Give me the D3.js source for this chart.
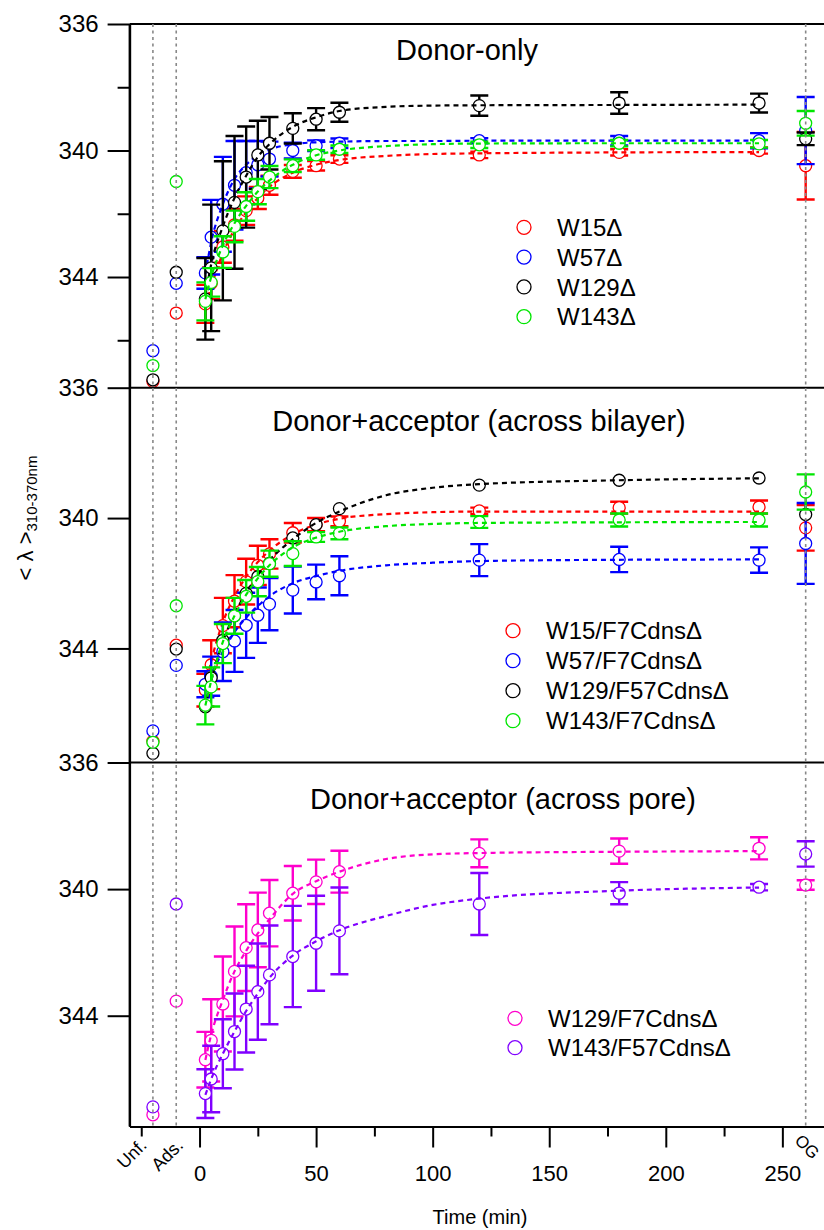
<!DOCTYPE html>
<html>
<head>
<meta charset="utf-8">
<script src="https://cdn.jsdelivr.net/npm/d3@7"></script>
<style>
  body { margin: 0; background: #fff; }
  svg { display: block; font-family: "Liberation Sans", Arial, Helvetica, sans-serif; }
</style>
</head>
<body>
<svg id="chart" width="824" height="1230"></svg>
<script>
/**
 * Data.
 */
const times = [2.5, 5, 10, 15, 20, 25, 30, 40, 50, 60, 120, 180, 240];
const fitTimes = [2.5, 5, 10, 15, 20, 25, 30, 40, 50, 60, 80, 100, 120, 180, 240];
const prepTimes = [-20, -10];          // Unf., Ads.
const prepLabels = ['Unf.', 'Ads.'];
const ogTime = 260;
const ogLabel = 'OG';
const xMajorTicks = [0, 50, 100, 150, 200, 250];
const xMinorTicks = [-25, 25, 75, 125, 175, 225];
const yTicks = [336, 340, 344];
const yMinorTicks = [338, 342, 346];
const yDomain = [336, 347.5];

// Donor-only
const w15Mean = [344.85, 344.2, 343.05, 342.35, 341.9, 341.5, 341.1, 340.66, 340.48, 340.27, 340.14, 340.06, 340.0];
const w15Err = [0.6, 0.5, 0.5, 0.5, 0.45, 0.35, 0.3, 0.2, 0.15, 0.12, 0.1, 0.1, 0.1];
const w15Fit = [344.9, 344.3, 343.25, 342.5, 341.95, 341.5, 341.15, 340.7, 340.45, 340.3, 340.17, 340.11, 340.09, 340.06, 340.05];
const w15Prep = [347.3, 345.14];
const w15Og = [340.48, 1.07];

const w57Mean = [343.87, 342.74, 341.7, 341.1, 340.7, 340.45, 340.27, 340.0, 339.85, 339.77, 339.69, 339.69, 339.69];
const w57Err = [0.5, 1.18, 1.5, 1.4, 1.0, 0.75, 0.55, 0.25, 0.17, 0.15, 0.08, 0.15, 0.24];
const w57Fit = [343.9, 342.9, 341.7, 340.9, 340.45, 340.15, 339.97, 339.8, 339.74, 339.72, 339.7, 339.7, 339.69, 339.69, 339.69];
const w57Prep = [346.33, 344.2];
const w57Og = [339.37, 1.06];

const w129Mean = [344.69, 343.71, 342.54, 341.64, 340.84, 340.14, 339.77, 339.3, 339.01, 338.79, 338.58, 338.5, 338.5];
const w129Err = [1.29, 2.0, 2.2, 2.1, 1.6, 1.08, 0.83, 0.48, 0.35, 0.3, 0.32, 0.34, 0.3];
const w129Fit = [344.6, 343.6, 342.4, 341.5, 340.8, 340.2, 339.8, 339.25, 338.95, 338.75, 338.62, 338.58, 338.57, 338.56, 338.55];
const w129Prep = [347.25, 343.85];
const w129Og = [339.63, 0.2];

const w143Mean = [344.77, 344.17, 343.21, 342.4, 341.77, 341.3, 340.84, 340.48, 340.14, 339.96, 339.82, 339.77, 339.79];
const w143Err = [0.6, 0.45, 0.5, 0.5, 0.45, 0.4, 0.35, 0.2, 0.15, 0.12, 0.1, 0.1, 0.12];
const w143Fit = [344.7, 344.0, 343.0, 342.3, 341.75, 341.3, 340.95, 340.45, 340.15, 340.0, 339.86, 339.8, 339.78, 339.77, 339.77];
const w143Prep = [346.8, 340.98];
const w143Og = [339.14, 0.39];

// Donor+acceptor (across bilayer)
const w15F7Mean = [345.28, 344.5, 343.3, 342.55, 341.95, 341.45, 341.1, 340.45, 340.2, 340.1, 339.78, 339.68, 339.66];
const w15F7Err = [0.5, 0.75, 0.85, 0.8, 0.7, 0.6, 0.45, 0.3, 0.2, 0.15, 0.1, 0.18, 0.2];
const w15F7Fit = [345.2, 344.4, 343.2, 342.4, 341.8, 341.35, 341.0, 340.5, 340.2, 340.02, 339.88, 339.82, 339.8, 339.8, 339.8];
const w15F7Prep = [346.85, 343.9];
const w15F7Og = [340.3, 0.7];

const w57F7Mean = [345.1, 344.85, 344.1, 343.77, 343.29, 342.98, 342.64, 342.21, 341.96, 341.77, 341.29, 341.27, 341.29];
const w57F7Err = [0.4, 0.6, 0.9, 0.95, 1.0, 0.85, 0.8, 0.72, 0.53, 0.6, 0.49, 0.39, 0.39];
const w57F7Fit = [345.2, 344.8, 344.1, 343.5, 343.05, 342.7, 342.4, 342.0, 341.78, 341.62, 341.45, 341.37, 341.32, 341.28, 341.27];
const w57F7Prep = [346.53, 344.52];
const w57F7Og = [340.78, 1.24];

const w129F57Mean = [345.79, 344.9, 343.75, 343.0, 342.31, 341.8, 341.39, 340.61, 340.2, 339.71, 338.99, 338.84, 338.77];
const w129F57Err = [0, 0, 0, 0, 0, 0, 0, 0, 0, 0, 0, 0, 0];
const w129F57Fit = [345.8, 345.0, 343.8, 342.95, 342.3, 341.75, 341.3, 340.65, 340.15, 339.8, 339.3, 339.07, 338.96, 338.84, 338.78];
const w129F57Prep = [347.22, 344.02];
const w129F57Og = [339.89, 0];

const w143F7Mean = [345.74, 345.18, 343.85, 343.0, 342.4, 341.95, 341.4, 341.09, 340.58, 340.47, 340.12, 340.06, 340.06];
const w143F7Err = [0.59, 0.6, 0.6, 0.55, 0.5, 0.45, 0.4, 0.38, 0.15, 0.18, 0.18, 0.2, 0.2];
const w143F7Fit = [345.75, 345.0, 343.8, 343.0, 342.35, 341.85, 341.45, 340.9, 340.6, 340.42, 340.25, 340.18, 340.15, 340.13, 340.12];
const w143F7Prep = [346.88, 342.69];
const w143F7Og = [339.2, 0.54];

// Donor+acceptor (across pore)
const w129F7Mean = [345.39, 344.78, 343.63, 342.6, 341.85, 341.29, 340.76, 340.13, 339.77, 339.45, 338.87, 338.8, 338.71];
const w129F7Err = [0.88, 1.3, 1.5, 1.42, 1.37, 1.18, 1.05, 0.86, 0.7, 0.66, 0.44, 0.4, 0.35];
const w129F7Fit = [345.4, 344.6, 343.5, 342.6, 341.95, 341.4, 340.95, 340.15, 339.75, 339.45, 339.05, 338.9, 338.86, 338.82, 338.8];
const w129F7Prep = [347.13, 343.54];
const w129F7Og = [339.87, 0.15];

const w143F57Mean = [346.46, 346.0, 345.2, 344.5, 343.79, 343.24, 342.71, 342.13, 341.71, 341.32, 340.47, 340.13, 339.94];
const w143F57Err = [0.77, 1.05, 1.09, 1.2, 1.37, 1.52, 1.56, 1.6, 1.5, 1.37, 0.98, 0.35, 0.1];
const w143F57Fit = [346.5, 346.0, 345.2, 344.5, 343.85, 343.3, 342.8, 342.1, 341.65, 341.3, 340.85, 340.5, 340.3, 340.05, 339.95];
const w143F57Prep = [346.88, 340.47];
const w143F57Og = [338.89, 0.4];

/**
 * Series and panels.
 */
const series = (name, color, mean, err, fit, prep, og) => ({ name, color, mean, err, fit, prep, og });

const panels = [
    {
        title: 'Donor-only', top: 24, bottom: 387.7, minor: true,
        titleX: 467, titleY: 60, legendX: 524, legendY: 227.3, legendGap: 29.8,
        series: [
            series('W15Δ', '#ff0000', w15Mean, w15Err, w15Fit, w15Prep, w15Og),
            series('W57Δ', '#0000ff', w57Mean, w57Err, w57Fit, w57Prep, w57Og),
            series('W129Δ', '#000000', w129Mean, w129Err, w129Fit, w129Prep, w129Og),
            series('W143Δ', '#00e600', w143Mean, w143Err, w143Fit, w143Prep, w143Og)
        ]
    },
    {
        title: 'Donor+acceptor (across bilayer)', top: 387.7, bottom: 762.5, minor: false,
        titleX: 479, titleY: 431, legendX: 513, legendY: 630.7, legendGap: 30,
        series: [
            series('W15/F7CdnsΔ', '#ff0000', w15F7Mean, w15F7Err, w15F7Fit, w15F7Prep, w15F7Og),
            series('W57/F7CdnsΔ', '#0000ff', w57F7Mean, w57F7Err, w57F7Fit, w57F7Prep, w57F7Og),
            series('W129/F57CdnsΔ', '#000000', w129F57Mean, w129F57Err, w129F57Fit, w129F57Prep, w129F57Og),
            series('W143/F7CdnsΔ', '#00e600', w143F7Mean, w143F7Err, w143F7Fit, w143F7Prep, w143F7Og)
        ]
    },
    {
        title: 'Donor+acceptor (across pore)', top: 762.5, bottom: 1126.5, minor: false,
        titleX: 503, titleY: 809, legendX: 515, legendY: 1018.3, legendGap: 29.4,
        series: [
            series('W129/F7CdnsΔ', '#ff00cc', w129F7Mean, w129F7Err, w129F7Fit, w129F7Prep, w129F7Og),
            series('W143/F57CdnsΔ', '#8000ff', w143F57Mean, w143F57Err, w143F57Fit, w143F57Prep, w143F57Og)
        ]
    }
];

/**
 * D3.
 */
const svg = d3.select('#chart');
const x = d3.scaleLinear().domain([-30, 280]).range([129.6, 852.3]);
const plotTop = panels[0].top,
    plotBottom = panels[panels.length - 1].bottom,
    plotLeft = x.range()[0];

function styleAxis(g, size) {
    g.attr('font-size', size).attr('font-family', null);
    g.selectAll('.domain, .tick line').attr('stroke', '#000').attr('stroke-width', 2);
    g.selectAll('.tick text').attr('fill', '#000');
}

function drawSeries(g, s, y) {
    const pts = times.map((t, i) => ({ t, v: s.mean[i], e: s.err[i] }))
        .concat([{ t: ogTime, v: s.og[0], e: s.og[1] }]);
    const preps = prepTimes.map((t, i) => ({ t, v: s.prep[i], e: 0 }));
    const container = g.append('g').attr('class', 'series');

    // Error bars
    container.selectAll('path.err').data(pts.filter(d => d.e > 0))
        .enter().append('path')
            .attr('class', 'err')
            .attr('fill', 'none')
            .attr('stroke', s.color)
            .attr('stroke-width', 2.4)
            .attr('d', d => {
                const cx = x(d.t), y1 = y(d.v - d.e), y2 = y(d.v + d.e);
                return `M${cx},${y1}V${y2}M${cx - 9},${y1}h18M${cx - 9},${y2}h18`;
            });

    // Points
    container.selectAll('circle').data(pts.concat(preps))
        .enter().append('circle')
            .attr('cx', d => x(d.t))
            .attr('cy', d => y(d.v))
            .attr('r', 6)
            .attr('fill', '#fff')
            .attr('stroke', s.color)
            .attr('stroke-width', 1.3);

    // Fit
    const line = d3.line().x(d => x(d[0])).y(d => y(d[1])).curve(d3.curveMonotoneX);
    container.append('path')
        .attr('fill', 'none')
        .attr('stroke', s.color)
        .attr('stroke-width', 2.2)
        .attr('stroke-dasharray', '5,4')
        .attr('d', line(fitTimes.map((t, i) => [t, s.fit[i]])));
}

function drawPanel(p) {
    const y = d3.scaleLinear().domain(yDomain).range([p.top, p.bottom]);
    const g = svg.append('g').attr('class', 'panel');

    // Frame line on top of the panel
    g.append('line')
        .attr('x1', plotLeft).attr('x2', x.range()[1])
        .attr('y1', p.top).attr('y2', p.top)
        .attr('stroke', '#000').attr('stroke-width', 2);

    // y-axis
    g.append('g').attr('transform', `translate(${plotLeft},0)`)
        .call(d3.axisLeft(y).tickValues(yTicks).tickSize(22).tickPadding(9).tickSizeOuter(0))
        .call(styleAxis, 24);
    if (p.minor) {
        g.append('g').attr('transform', `translate(${plotLeft},0)`)
            .call(d3.axisLeft(y).tickValues(yMinorTicks).tickSize(12).tickFormat('').tickSizeOuter(0))
            .call(styleAxis, 24);
    }

    // Items
    p.series.forEach(s => drawSeries(g, s, y));

    // Title
    g.append('text')
        .attr('x', p.titleX).attr('y', p.titleY)
        .attr('text-anchor', 'middle')
        .attr('font-size', 29)
        .text(p.title);

    // Legend
    const legend = g.selectAll('g.legend').data(p.series)
        .enter().append('g')
            .attr('class', 'legend')
            .attr('transform', (d, i) => `translate(${p.legendX},${p.legendY + i * p.legendGap})`);
    legend.append('circle')
        .attr('r', 7).attr('fill', 'none')
        .attr('stroke', d => d.color).attr('stroke-width', 1.3);
    legend.append('text')
        .attr('x', 33).attr('dy', '0.36em')
        .attr('font-size', 24)
        .text(d => d.name);
}

panels.forEach(drawPanel);

// Reference lines for Unf., Ads. and OG
svg.append('g').selectAll('line').data(prepTimes.concat([ogTime]))
    .enter().append('line')
        .attr('x1', d => x(d)).attr('x2', d => x(d))
        .attr('y1', plotTop).attr('y2', plotBottom)
        .attr('stroke', '#888')
        .attr('stroke-width', 1.6)
        .attr('stroke-dasharray', '3,3.5');

// Left frame line
svg.append('line')
    .attr('x1', plotLeft).attr('x2', plotLeft)
    .attr('y1', plotTop).attr('y2', plotBottom)
    .attr('stroke', '#000').attr('stroke-width', 2);

// x-axis
const xAxisG = svg.append('g').attr('transform', `translate(0,${plotBottom})`);
xAxisG.call(d3.axisBottom(x).tickValues(xMajorTicks).tickSize(21).tickPadding(18).tickSizeOuter(0))
    .call(styleAxis, 22);
svg.append('g').attr('transform', `translate(0,${plotBottom})`)
    .call(d3.axisBottom(x).tickValues(xMinorTicks).tickSize(10).tickFormat('').tickSizeOuter(0))
    .call(styleAxis, 22);

// Rotated category labels
const prepOffsets = [-5, 8];
svg.append('g').selectAll('text').data(prepLabels)
    .enter().append('text')
        .attr('text-anchor', 'end')
        .attr('font-size', 18)
        .attr('transform', (d, i) => `translate(${x(prepTimes[i]) + prepOffsets[i]},${plotBottom + 20}) rotate(-45)`)
        .text(d => d);
svg.append('text')
    .attr('font-size', 17)
    .attr('transform', `translate(${x(ogTime) - 12},${plotBottom + 15}) rotate(45)`)
    .text(ogLabel);

// x-axis label
svg.append('text')
    .attr('x', 480).attr('y', 1224)
    .attr('text-anchor', 'middle')
    .attr('font-size', 20)
    .text('Time (min)');

// y-axis label
const yLabel = svg.append('text')
    .attr('transform', 'translate(33,518) rotate(-90)')
    .attr('text-anchor', 'middle')
    .attr('font-size', 22);
yLabel.append('tspan').text('< λ >');
yLabel.append('tspan').attr('font-size', 15).attr('dy', 4).text('310-370nm');
</script>
</body>
</html>
